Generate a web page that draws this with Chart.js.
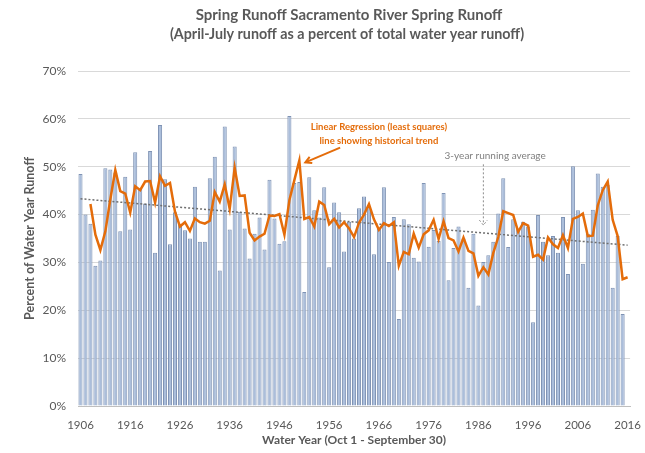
<!DOCTYPE html>
<html><head><meta charset="utf-8">
<script src="https://cdn.jsdelivr.net/npm/chart.js@4.4.1/dist/chart.umd.min.js"></script>
<style>html,body{margin:0;padding:0;background:#fff;}canvas{display:block;}</style>
</head><body>
<canvas id="c" width="645" height="453"></canvas>
<script>
const years = [1906,1907,1908,1909,1910,1911,1912,1913,1914,1915,1916,1917,1918,1919,1920,1921,1922,1923,1924,1925,1926,1927,1928,1929,1930,1931,1932,1933,1934,1935,1936,1937,1938,1939,1940,1941,1942,1943,1944,1945,1946,1947,1948,1949,1950,1951,1952,1953,1954,1955,1956,1957,1958,1959,1960,1961,1962,1963,1964,1965,1966,1967,1968,1969,1970,1971,1972,1973,1974,1975,1976,1977,1978,1979,1980,1981,1982,1983,1984,1985,1986,1987,1988,1989,1990,1991,1992,1993,1994,1995,1996,1997,1998,1999,2000,2001,2002,2003,2004,2005,2006,2007,2008,2009,2010,2011,2012,2013,2014,2015,2016];
const tickLabels = [1906,1916,1926,1936,1946,1956,1966,1976,1986,1996,2006,2016];
// April-July runoff as % of water year runoff
const springRunoff = [48.5,40.0,38.1,29.3,30.4,49.7,49.4,48.8,36.5,47.9,36.9,53.0,45.4,42.3,53.3,32.0,58.7,47.4,33.8,40.5,38.1,36.7,35.0,45.8,34.3,34.3,47.6,52.1,28.3,58.4,36.9,54.2,40.6,37.1,30.8,36.0,39.4,32.7,47.3,39.2,33.9,34.4,60.6,46.6,46.8,23.8,47.8,40.9,39.4,45.7,29.0,42.5,40.5,32.3,38.5,35.0,41.3,43.8,41.6,31.7,37.1,45.7,30.1,39.5,18.2,39.0,38.0,31.0,30.2,46.6,33.3,36.8,34.5,44.5,26.3,33.0,37.5,35.0,24.7,36.0,21.0,30.1,31.5,34.3,40.2,47.6,33.2,39.0,37.0,38.5,37.5,17.5,39.9,34.3,31.5,35.5,32.0,39.5,27.6,50.1,40.9,29.7,36.0,41.0,48.6,45.8,46.2,24.7,35.5,19.2,null];
// 3-year running average
const runningAvg = [null,null,42.2,35.8,32.6,36.5,43.2,49.3,44.9,44.4,40.4,45.9,45.1,46.9,47.0,42.5,48.0,46.0,46.6,40.6,37.5,38.4,36.6,39.2,38.4,38.1,38.7,44.7,42.7,46.3,41.2,49.8,43.9,44.0,36.2,34.6,35.4,36.0,39.8,39.7,40.1,35.8,43.0,47.2,51.3,39.1,39.5,37.5,42.7,42.0,38.0,39.1,37.3,38.4,37.1,35.3,38.3,40.0,42.2,39.0,36.8,38.2,37.6,38.4,29.3,32.2,31.7,36.0,33.1,35.9,36.7,38.9,34.9,38.6,35.1,34.6,32.3,35.2,32.4,31.9,27.2,29.0,27.5,32.0,35.3,40.7,40.3,39.9,36.4,38.2,37.7,31.2,31.6,30.6,35.2,33.8,33.0,35.7,33.0,39.1,39.5,40.2,35.5,35.6,41.9,45.1,46.9,38.9,35.5,26.5,26.9];
// linear regression end values (first and last year)
const trendStart = 43.3;
const trendEnd = 33.6;
const trend = years.map((y,i)=> i===0 ? trendStart : (i===years.length-1 ? trendEnd : null));
const titleLines = ['Spring Runoff Sacramento River Spring Runoff', '(April-July runoff as a percent of total water year runoff)'];

const GRAY = '#595959';
const ORANGE = '#e46c0a';

const annot = {
  id:'annot',
  afterDatasetsDraw(chart){
    const {ctx, scales:{x,y}} = chart;
    const px = yr => x.getPixelForValue(yr - years[0]);
    const py = v => y.getPixelForValue(v);
    ctx.save();
    ctx.fillStyle = ORANGE;
    ctx.font = 'bold 9.5px Lato';
    ctx.textAlign = 'center';
    ctx.textBaseline = 'middle';
    ctx.fillText('Linear Regression (least squares)', px(1966), py(58.3));
    ctx.fillText('line showing historical trend', px(1966), py(55.3));
    let x1 = px(1958.2), y1 = py(54.0), x2 = px(1951.2), y2 = py(50.9);
    ctx.strokeStyle = ORANGE; ctx.lineWidth = 2;
    ctx.beginPath(); ctx.moveTo(x1,y1); ctx.lineTo(x2,y2); ctx.stroke();
    let ang = Math.atan2(y2-y1, x2-x1);
    ctx.beginPath();
    ctx.moveTo(x2 - 7*Math.cos(ang-0.5), y2 - 7*Math.sin(ang-0.5));
    ctx.lineTo(x2,y2);
    ctx.lineTo(x2 - 7*Math.cos(ang+0.5), y2 - 7*Math.sin(ang+0.5));
    ctx.stroke();
    ctx.fillStyle = '#7f7f7f';
    ctx.font = '10px Lato';
    ctx.textAlign = 'left';
    ctx.fillText('3-year running average', px(1979.2), py(52.2));
    const ax = px(1987);
    const ya = py(50.5), yb = py(37.8);
    ctx.strokeStyle = '#8c8c8c'; ctx.lineWidth = 1;
    ctx.setLineDash([2,2]);
    ctx.beginPath(); ctx.moveTo(ax,ya); ctx.lineTo(ax,yb); ctx.stroke();
    ctx.beginPath(); ctx.moveTo(ax-4,yb-5); ctx.lineTo(ax,yb); ctx.lineTo(ax+4,yb-5); ctx.stroke();
    ctx.restore();
  }
};
const bg = {
  id:'bg',
  beforeDraw(chart){
    const ctx = chart.ctx; ctx.save(); ctx.fillStyle='#fff'; ctx.fillRect(0,0,chart.width,chart.height); ctx.restore();
  },
  afterDraw(chart){
    const ctx = chart.ctx; ctx.save();
    ctx.fillStyle = GRAY; ctx.textAlign = 'center'; ctx.textBaseline = 'middle';
    ctx.font = 'bold 15px Lato';
    ctx.fillText(titleLines[0], 349, 15);
    ctx.font = 'bold 14.3px Lato';
    ctx.fillText(titleLines[1], 347, 34);
    ctx.restore();
  }
};

new Chart(document.getElementById('c'), {
  data: {
    labels: years,
    datasets: [
      {type:'line', data: runningAvg, borderColor: ORANGE, borderWidth: 2.5, pointRadius: 0, tension: 0, order: 1},
      {type:'line', data: trend, borderColor: '#6f6f6f', borderDash: [2,2], borderWidth: 1.5, pointRadius: 0, spanGaps: true, order: 2},
      {type:'bar', data: springRunoff, backgroundColor: '#abbedb', borderColor: '#7f93b4', borderWidth: 1, barPercentage: 0.82, categoryPercentage: 1.0, order: 3}
    ]
  },
  options: {
    responsive: false,
    animation: false,
    layout: {padding: {left: 0, right: 12, top: 71, bottom: 0}},
    plugins: {
      legend: {display: false},
      tooltip: {enabled: false},
      title: {display: false}
    },
    scales: {
      x: {
        type: 'category',
        offset: true,
        afterFit(s){ s.height = 47; },
        grid: {display: false},
        border: {display: true, color: '#bfbfbf'},
        ticks: {
          autoSkip: false, maxRotation: 0, minRotation: 0, padding: 4,
          color: GRAY, font: {family: 'Lato', size: 11.5},
          callback(v, i){ return tickLabels.includes(years[i]) ? String(years[i]) : ''; }
        },
        title: {display: true, text: 'Water Year (Oct 1 - September 30)', color: GRAY,
          font: {family: 'Lato', size: 12, weight: 'bold'}, padding: {top: 0, bottom: 6}}
      },
      y: {
        min: 0, max: 70,
        afterFit(s){ s.width = 78; },
        grid: {color: '#d9d9d9', drawTicks: false},
        border: {display: false},
        ticks: {stepSize: 10, padding: 12, color: GRAY, font: {family: 'Lato', size: 12},
          callback(v){ return v + '%'; }},
        title: {display: true, text: 'Percent of Water Year Runoff', color: GRAY,
          font: {family: 'Lato', size: 12.5, weight: 'bold'}, padding: {top: 22, bottom: 0}}
      }
    }
  },
  plugins: [bg, annot]
});
</script>
</body></html>
